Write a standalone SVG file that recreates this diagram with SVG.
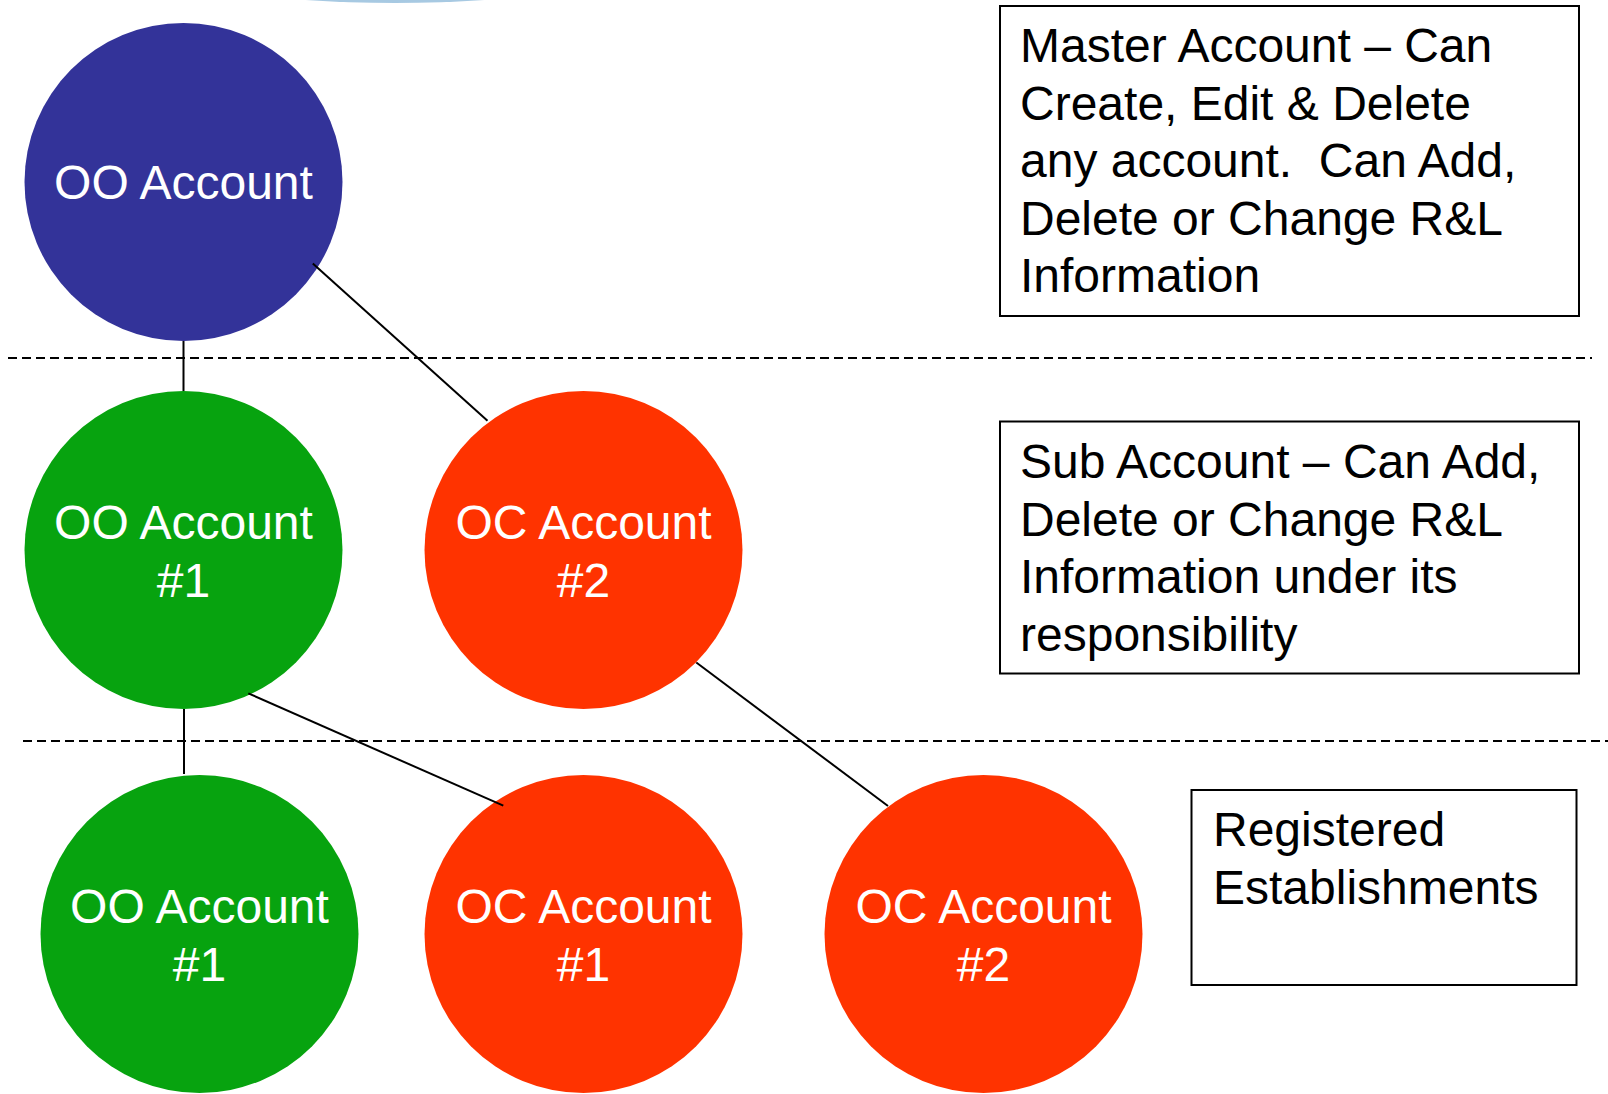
<svg xmlns="http://www.w3.org/2000/svg" width="1608" height="1094" viewBox="0 0 1608 1094">
  <defs>
    <linearGradient id="arcGrad" x1="0" y1="0" x2="1" y2="0">
      <stop offset="0" stop-color="#d6e7f3" stop-opacity="0"/>
      <stop offset="0.3" stop-color="#a7c9e2" stop-opacity="1"/>
      <stop offset="0.7" stop-color="#a7c9e2" stop-opacity="1"/>
      <stop offset="1" stop-color="#d6e7f3" stop-opacity="0"/>
    </linearGradient>
  </defs>
  <style>
    .node-blue { fill: #333399; }
    .node-green { fill: #07a30f; }
    .node-red { fill: #ff3300; }
    .ntext { font-family: "Liberation Sans", Arial, sans-serif; font-size: 48px; fill: #ffffff; text-anchor: middle; }
    .btext { font-family: "Liberation Sans", Arial, sans-serif; font-size: 48px; fill: #000000; white-space: pre; }
    .box { fill: #ffffff; stroke: #000000; stroke-width: 2; }
    .conn { stroke: #000000; stroke-width: 2; fill: none; }
    .sep { stroke: #000000; stroke-width: 2; stroke-dasharray: 9 5; fill: none; }
  </style>
  <rect width="1608" height="1094" fill="#ffffff"/>
  <ellipse cx="395" cy="-37" rx="235" ry="40" fill="url(#arcGrad)"/>

  <g id="separators">
    <line class="sep" x1="8" y1="358" x2="1592" y2="358"/>
    <line class="sep" x1="23" y1="741" x2="1608" y2="741"/>
  </g>

  <g id="node-oo-master">
    <circle class="node-blue" cx="183.5" cy="182" r="159"/>
    <text class="ntext" x="183.5" y="199">OO Account</text>
  </g>
  <g id="node-oo-sub1">
    <circle class="node-green" cx="183.5" cy="550" r="159"/>
    <text class="ntext" x="183.5" y="539">OO Account</text>
    <text class="ntext" x="183.5" y="597">#1</text>
  </g>
  <g id="node-oc-sub2">
    <circle class="node-red" cx="583.5" cy="550" r="159"/>
    <text class="ntext" x="583.5" y="539">OC Account</text>
    <text class="ntext" x="583.5" y="597">#2</text>
  </g>
  <g id="node-oo-est1">
    <circle class="node-green" cx="199.5" cy="934" r="159"/>
    <text class="ntext" x="199.5" y="923">OO Account</text>
    <text class="ntext" x="199.5" y="981">#1</text>
  </g>
  <g id="node-oc-est1">
    <circle class="node-red" cx="583.5" cy="934" r="159"/>
    <text class="ntext" x="583.5" y="923">OC Account</text>
    <text class="ntext" x="583.5" y="981">#1</text>
  </g>
  <g id="node-oc-est2">
    <circle class="node-red" cx="983.5" cy="934" r="159"/>
    <text class="ntext" x="983.5" y="923">OC Account</text>
    <text class="ntext" x="983.5" y="981">#2</text>
  </g>

  <g id="connectors">
    <line class="conn" x1="183.5" y1="341" x2="183.5" y2="391"/>
    <line class="conn" x1="312.8" y1="263.6" x2="487.5" y2="420.8"/>
    <line class="conn" x1="184" y1="709" x2="184" y2="774"/>
    <line class="conn" x1="248.3" y1="693.3" x2="503.3" y2="805.7"/>
    <line class="conn" x1="696.3" y1="662.5" x2="888" y2="806"/>
  </g>

  <g id="legend-master">
    <rect class="box" x="1000" y="6" width="579" height="310"/>
    <text class="btext" x="1020" y="62">Master Account – Can</text>
    <text class="btext" x="1020" y="119.5">Create, Edit &amp; Delete</text>
    <text class="btext" x="1020" y="177" xml:space="preserve">any account.  Can Add,</text>
    <text class="btext" x="1020" y="234.5">Delete or Change R&amp;L</text>
    <text class="btext" x="1020" y="292">Information</text>
  </g>
  <g id="legend-sub">
    <rect class="box" x="1000" y="421.5" width="579" height="252"/>
    <text class="btext" x="1020" y="478">Sub Account – Can Add,</text>
    <text class="btext" x="1020" y="535.5">Delete or Change R&amp;L</text>
    <text class="btext" x="1020" y="593">Information under its</text>
    <text class="btext" x="1020" y="650.5">responsibility</text>
  </g>
  <g id="legend-est">
    <rect class="box" x="1191.5" y="790" width="385" height="195"/>
    <text class="btext" x="1213" y="846">Registered</text>
    <text class="btext" x="1213" y="903.5">Establishments</text>
  </g>
</svg>
